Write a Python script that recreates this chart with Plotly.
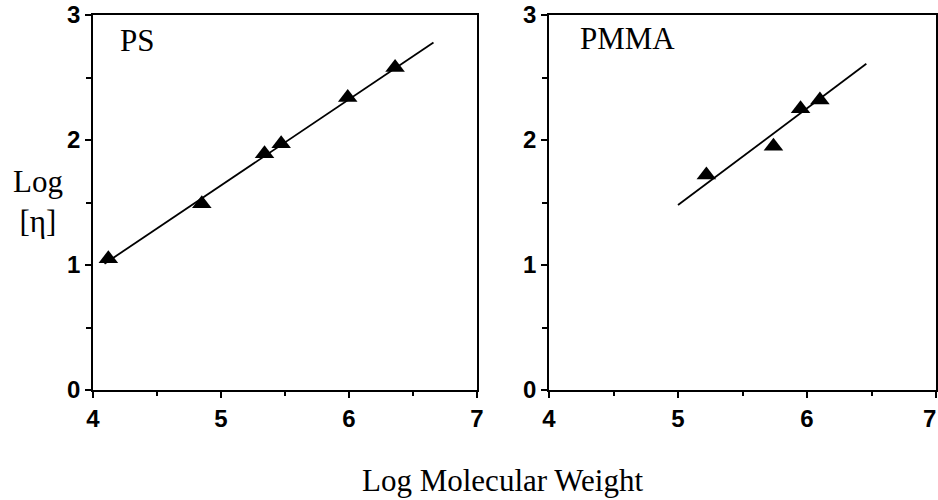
import plotly.graph_objects as go

# PS data
ps_x = [4.12, 4.85, 5.34, 5.47, 5.99, 6.36]
ps_y = [1.05, 1.49, 1.89, 1.97, 2.34, 2.58]
ps_fit_x = [4.09, 6.66]
ps_fit_y = [1.01, 2.78]

# PMMA data
pmma_x = [5.22, 5.74, 5.95, 6.10]
pmma_y = [1.72, 1.95, 2.25, 2.32]
pmma_fit_x = [5.00, 6.46]
pmma_fit_y = [1.48, 2.61]

x_ticks = [4, 5, 6, 7]
y_ticks = [0, 1, 2, 3]

W, H = 938, 500

fig = go.Figure()
marker = dict(symbol="triangle-up", size=17, color="black")
line = dict(color="black", width=1.8)

fig.add_trace(go.Scatter(x=ps_fit_x, y=ps_fit_y, mode="lines", line=line, xaxis="x", yaxis="y"))
fig.add_trace(go.Scatter(x=ps_x, y=ps_y, mode="markers", marker=marker, xaxis="x", yaxis="y"))
fig.add_trace(go.Scatter(x=pmma_fit_x, y=pmma_fit_y, mode="lines", line=line, xaxis="x2", yaxis="y2"))
fig.add_trace(go.Scatter(x=pmma_x, y=pmma_y, mode="markers", marker=marker, xaxis="x2", yaxis="y2"))

tickfont = dict(family="Liberation Sans, Arial", size=24, color="black", weight="bold")

def xax(domain, anchor):
    return dict(domain=domain, anchor=anchor, range=[4, 7], tickvals=x_ticks,
                ticks="outside", ticklen=6, tickwidth=1.6, tickcolor="black",
                minor=dict(dtick=0.5, ticks="outside", ticklen=4, tickwidth=1.6, tickcolor="black"),
                showline=True, linecolor="black", linewidth=1.8, mirror=True,
                showgrid=False, zeroline=False, tickfont=tickfont, fixedrange=True,
                automargin=False)

def yax(domain, anchor):
    return dict(domain=domain, anchor=anchor, range=[0, 3], tickvals=y_ticks,
                ticks="outside", ticklen=6, tickwidth=1.6, tickcolor="black",
                minor=dict(dtick=0.5, ticks="outside", ticklen=5, tickwidth=1.6, tickcolor="black"),
                showline=True, linecolor="black", linewidth=1.8, mirror=True,
                showgrid=False, zeroline=False, tickfont=tickfont, fixedrange=True,
                automargin=False)

ydom = [(H - 390) / H, (H - 15) / H]
fig.update_layout(
    template="none",
    width=W, height=H,
    margin=dict(l=0, r=0, t=0, b=0, pad=0),
    paper_bgcolor="white", plot_bgcolor="white",
    showlegend=False,
    xaxis=xax([93 / W, 477 / W], "y"),
    yaxis=yax(ydom, "x"),
    xaxis2=xax([549 / W, 936 / W], "y2"),
    yaxis2=yax(ydom, "x2"),
)

# the right panel's last tick label sits at the page edge; keep it fully on the page
fig.add_annotation(text="7", xref="x2", yref="paper", x=7, y=ydom[0], yshift=-13, xshift=2,
                   xanchor="right", yanchor="top", showarrow=False, font=tickfont)

serif = dict(family="Liberation Serif, Times New Roman", size=31, color="black")
fig.add_annotation(text="PS", xref="paper", yref="paper", x=118 / W, y=1 - 41 / H,
                   xanchor="left", yanchor="middle", showarrow=False, font=serif)
fig.add_annotation(text="PMMA", xref="paper", yref="paper", x=578 / W, y=1 - 39 / H,
                   xanchor="left", yanchor="middle", showarrow=False, font=serif)
fig.add_annotation(text="Log<br>[η]", xref="paper", yref="paper", x=38 / W, y=1 - 201 / H,
                   xanchor="center", yanchor="middle", showarrow=False, font=serif, align="center")
fig.add_annotation(text="Log Molecular Weight", xref="paper", yref="paper", x=502 / W, y=1 - 480 / H,
                   xanchor="center", yanchor="middle", showarrow=False, font=serif)

fig.write_html("out.html", config={"displayModeBar": False})
